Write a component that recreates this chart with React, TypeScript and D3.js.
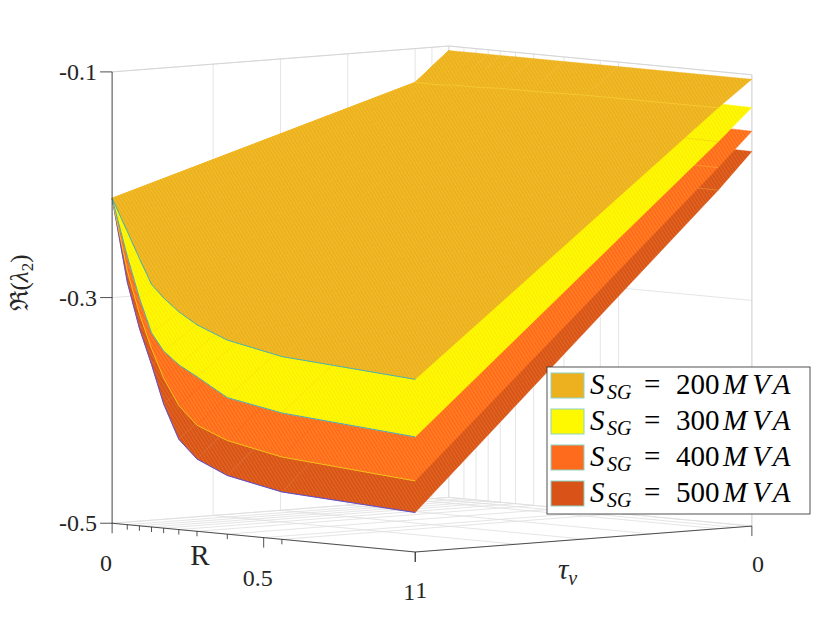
import React from 'react';
import * as d3 from 'd3';

// grid of the surfaces
const rValues = [0, 0.05, 0.09, 0.13, 0.17, 0.22, 0.28, 0.38, 0.56, 1];
const tauValues = [0, 0.1, 1];

// Re(lambda_2) rows: tau = 0, 0.1, 1 ; columns follow rValues
const lambda200 = [
  [-0.104, -0.104, -0.104, -0.104, -0.104, -0.104, -0.104, -0.104, -0.104, -0.104],
  [-0.130, -0.130, -0.130, -0.129, -0.129, -0.129, -0.128, -0.128, -0.127, -0.127],
  [-0.212, -0.240, -0.263, -0.285, -0.296, -0.307, -0.317, -0.328, -0.338, -0.347],
];
const lambda300 = [
  [-0.104, -0.110, -0.114, -0.118, -0.120, -0.122, -0.124, -0.126, -0.127, -0.129],
  [-0.130, -0.136, -0.141, -0.146, -0.148, -0.150, -0.152, -0.154, -0.155, -0.157],
  [-0.212, -0.262, -0.298, -0.328, -0.343, -0.354, -0.363, -0.379, -0.388, -0.398],
];
const lambda400 = [
  [-0.104, -0.115, -0.124, -0.131, -0.136, -0.140, -0.143, -0.146, -0.148, -0.150],
  [-0.130, -0.142, -0.152, -0.160, -0.166, -0.170, -0.173, -0.176, -0.178, -0.180],
  [-0.212, -0.275, -0.312, -0.342, -0.367, -0.390, -0.406, -0.417, -0.427, -0.437],
];
const lambda500 = [
  [-0.104, -0.120, -0.133, -0.144, -0.152, -0.158, -0.161, -0.164, -0.166, -0.168],
  [-0.130, -0.148, -0.162, -0.174, -0.183, -0.190, -0.194, -0.197, -0.199, -0.200],
  [-0.212, -0.285, -0.325, -0.356, -0.390, -0.420, -0.436, -0.448, -0.458, -0.465],
];
const sgLabels = ['200', '300', '400', '500'];

// axis ticks
const rTicks = [0, 0.05, 0.09, 0.13, 0.17, 0.22, 0.28, 0.38, 0.5, 0.56, 1];
const rTickLabels = ['0', '0.5', '1'];
const tauTicks = [0, 0.05, 0.1, 0.3, 0.5, 0.7, 1];
const tauTickLabels = ['0', '1'];
const zTicks = [-0.5, -0.3, -0.1];

const width = 830;
const height = 623;

// camera (orthographic, like view(az, el))
const az = (42 * Math.PI) / 180;
const el = (4.9 * Math.PI) / 180;
const boxSize = 453;
const cx = 432;
const cy = 299;

const xs = d3.scaleLinear().domain([0, 1]).range([0, 1]); // R
const ys = d3.scaleLinear().domain([0, 1]).range([0, 1]); // tau
const zs = d3.scaleLinear().domain([-0.5, -0.1]).range([0, 1]);

function proj(r: number, t: number, z: number): [number, number, number] {
  const a = xs(r) - 0.5;
  const b = ys(t) - 0.5;
  const c = zs(z) - 0.5;
  const x = cx + boxSize * (a * Math.sin(az) - b * Math.cos(az));
  const y =
    cy +
    boxSize * Math.sin(el) * (a * Math.cos(az) + b * Math.sin(az)) -
    boxSize * Math.cos(el) * c;
  const depth = (a * Math.cos(az) + b * Math.sin(az)) * Math.cos(el) + c * Math.sin(el);
  return [x, y, depth];
}

const line = d3.line<[number, number, number]>().x((d) => d[0]).y((d) => d[1]);

const surfaces = [
  { s: '500', data: lambda500, face: '#D95319', stripe: '#E8842A', edge: '#5B4FD6' },
  { s: '400', data: lambda400, face: '#FF6B1C', stripe: '#FFA22E', edge: '#F2C21A' },
  { s: '300', data: lambda300, face: '#FFF900', stripe: '#F4D81A', edge: '#4AA8C8' },
  { s: '200', data: lambda200, face: '#EDB120', stripe: '#F6CD33', edge: '#49B3B0' },
];

const gridColor = '#dedede';
const axisColor = '#262626';
const font = "'Liberation Serif', 'DejaVu Serif', serif";

function cells(data: number[][]) {
  const out: { pts: [number, number, number][]; depth: number }[] = [];
  for (let j = 0; j < tauValues.length - 1; j++) {
    for (let i = 0; i < rValues.length - 1; i++) {
      const pts = [
        proj(rValues[i], tauValues[j], data[j][i]),
        proj(rValues[i + 1], tauValues[j], data[j][i + 1]),
        proj(rValues[i + 1], tauValues[j + 1], data[j + 1][i + 1]),
        proj(rValues[i], tauValues[j + 1], data[j + 1][i]),
      ];
      const depth = d3.mean(pts, (p) => p[2])!;
      out.push({ pts, depth });
    }
  }
  return out.sort((p, q) => p.depth - q.depth);
}

const App: React.FC = () => {
  const zMin = -0.5;
  const zMax = -0.1;

  // back walls and floor grid
  const gridLines: [number, number, number][][] = [];
  tauTicks.forEach((t) => {
    gridLines.push([proj(0, t, zMin), proj(0, t, zMax)]); // wall R=0
    gridLines.push([proj(0, t, zMin), proj(1, t, zMin)]); // floor
  });
  rTicks.forEach((r) => {
    gridLines.push([proj(r, 0, zMin), proj(r, 0, zMax)]); // wall tau=0
    gridLines.push([proj(r, 0, zMin), proj(r, 1, zMin)]); // floor
  });
  zTicks.forEach((z) => {
    gridLines.push([proj(0, 1, z), proj(0, 0, z), proj(1, 0, z)]);
  });

  const A0 = proj(0, 1, zMin);
  const A1 = proj(0, 1, zMax);
  const B0 = proj(1, 1, zMin);
  const C0 = proj(1, 0, zMin);
  const C1 = proj(1, 0, zMax);

  const legendX = 547;
  const legendY = 367;
  const rowH = 36;

  return (
    <svg
      width={width}
      height={height}
      style={{ position: 'absolute', left: 0, top: 0, background: '#fff' }}
    >
      <defs>
        {surfaces.map((s) => (
          <pattern
            key={s.s}
            id={`hatch${s.s}`}
            width={3}
            height={3}
            patternUnits="userSpaceOnUse"
            patternTransform="rotate(-32)"
          >
            <rect width={3} height={3} fill={s.face} />
            <line x1={0} y1={0} x2={0} y2={3} stroke={s.stripe} strokeWidth={0.9} />
          </pattern>
        ))}
      </defs>

      {/* grid */}
      {gridLines.map((g, i) => (
        <path key={i} d={line(g)!} fill="none" stroke={gridColor} strokeWidth={0.8} />
      ))}
      <path d={line([A1, proj(0, 0, zMax), C1, C0])!} fill="none" stroke="#d0d0d0" strokeWidth={0.8} />

      {/* surfaces */}
      {surfaces.map((s) => (
        <g key={s.s}>
          {cells(s.data).map((c, i) => (
            <path
              key={i}
              d={line(c.pts)! + 'Z'}
              fill={`url(#hatch${s.s})`}
              stroke={s.face}
              strokeWidth={0.4}
              strokeLinejoin="round"
            />
          ))}
          <path
            d={line(rValues.map((r, i) => proj(r, 0.1, s.data[1][i])))!}
            fill="none"
            stroke={s.stripe}
            strokeWidth={0.8}
          />
          <path
            d={line(rValues.map((r, i) => proj(r, 1, s.data[2][i])))!}
            fill="none"
            stroke={s.edge}
            strokeWidth={1}
          />
        </g>
      ))}

      {/* axes */}
      <path d={line([A0, A1])!} stroke={axisColor} strokeWidth={0.8} fill="none" />
      <path d={line([A0, B0, C0])!} stroke={axisColor} strokeWidth={0.8} fill="none" />
      {zTicks.map((z) => {
        const p = proj(0, 1, z);
        return (
          <g key={z}>
            <line x1={p[0] - 12} y1={p[1]} x2={p[0]} y2={p[1]} stroke={axisColor} strokeWidth={0.8} />
            <text
              x={p[0] - 15}
              y={p[1]}
              textAnchor="end"
              dominantBaseline="central"
              fontFamily={font}
              fontSize={24}
              fill={axisColor}
            >
              {z.toFixed(1)}
            </text>
          </g>
        );
      })}
      {rTicks.map((r) => {
        const p = proj(r, 1, zMin);
        const major = rTickLabels.includes(String(r));
        return (
          <line key={r} x1={p[0]} y1={p[1]} x2={p[0]} y2={p[1] + (major ? 10 : 5)} stroke={axisColor} strokeWidth={0.8} />
        );
      })}
      {rTickLabels.map((l) => {
        const p = proj(+l, 1, zMin);
        return (
          <text key={l} x={p[0] - 6} y={p[1] + 40} textAnchor="middle" dominantBaseline="central" fontFamily={font} fontSize={24} fill={axisColor}>
            {l}
          </text>
        );
      })}
      {tauTickLabels.map((l) => {
        const p = proj(1, +l, zMin);
        return (
          <g key={l}>
            <line x1={p[0]} y1={p[1]} x2={p[0]} y2={p[1] + 10} stroke={axisColor} strokeWidth={0.8} />
            <text x={p[0] + 6} y={p[1] + 38} textAnchor="middle" dominantBaseline="central" fontFamily={font} fontSize={24} fill={axisColor}>
              {l}
            </text>
          </g>
        );
      })}

      {/* axis labels */}
      {(() => {
        const p = proj(0.29, 1, zMin);
        return (
          <text x={p[0]} y={p[1] + 23} textAnchor="middle" dominantBaseline="central" fontFamily={font} fontSize={29} fill={axisColor}>
            R
          </text>
        );
      })()}
      {(() => {
        const p = proj(1, 0.5, zMin);
        return (
          <text x={p[0] - 16} y={p[1] + 40} textAnchor="middle" fontFamily={font} fontSize={29} fill={axisColor}>
            <tspan fontStyle="italic">τ</tspan>
            <tspan fontStyle="italic" fontSize={20} dy={6}>v</tspan>
          </text>
        );
      })()}
      <text
        transform="translate(28,283) rotate(-90)"
        textAnchor="middle"
        fontFamily={font}
        fontSize={25}
        fill={axisColor}
      >
        ℜ(<tspan fontStyle="italic">λ</tspan>
        <tspan fontSize={17} dy={5}>2</tspan>
        <tspan dy={-5}>)</tspan>
      </text>

      {/* legend */}
      <rect x={legendX} y={legendY} width={263} height={147} fill="#fff" stroke={axisColor} strokeWidth={0.8} />
      {sgLabels.map((l, i) => {
        const s = surfaces.find((d) => d.s === l)!;
        const yc = legendY + 18 + i * rowH;
        return (
          <g key={l} fontFamily={font} fill="#000">
            <rect x={legendX + 4} y={yc - 12} width={33} height={25} fill={s.face} stroke="#8bd3c3" strokeWidth={1} />
            <text x={legendX + 43} y={yc + 9} fontSize={29} fontStyle="italic">S</text>
            <text x={legendX + 60} y={yc + 14} fontSize={20} fontStyle="italic">SG</text>
            <text x={legendX + 97} y={yc + 9} fontSize={29}>=</text>
            <text x={legendX + 129} y={yc + 9} fontSize={29}>{l}</text>
            <text x={legendX + 176} y={yc + 9} fontSize={29} fontStyle="italic" letterSpacing={5}>MVA</text>
          </g>
        );
      })}
    </svg>
  );
};

export default App;
